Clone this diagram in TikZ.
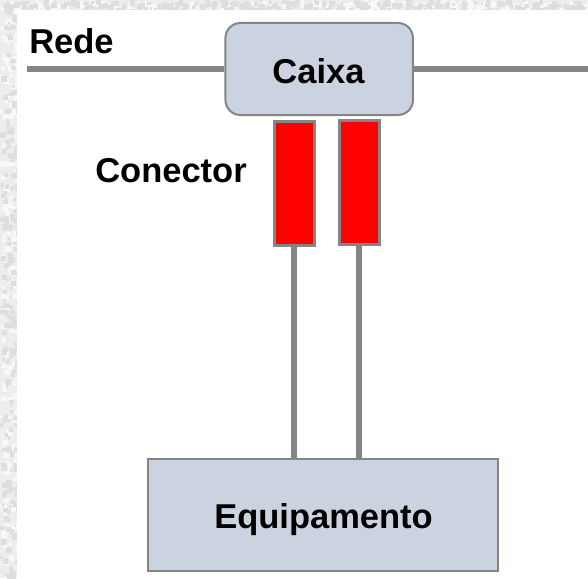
\documentclass[tikz,border=0pt]{standalone}
\usepackage{fontspec}
\setmainfont{Liberation Sans}
\definecolor{boxfill}{HTML}{CCD3E0}
\definecolor{edge}{HTML}{858585}
\definecolor{paper}{HTML}{EDEDED}
\definecolor{specklight}{HTML}{F8F8F8}
\definecolor{speckdark}{HTML}{DEDEDE}
\tikzset{
  lbl/.style={font=\fontsize{34.5}{40}\selectfont\bfseries,text=black,inner sep=0pt,anchor=base},
  boxbase/.style={draw=edge,line width=2pt,fill=boxfill,inner sep=0pt},
  conn/.style={draw=edge,line width=6pt},
  redbox/.style={draw=edge,line width=2.6pt,fill=red,minimum width=40pt,minimum height=124pt,inner sep=0pt,outer sep=0pt}
}
\begin{document}
\begin{tikzpicture}[x=1pt,y=-1pt]
\useasboundingbox (0,0) rectangle (588,578);
\fill[paper] (0,0) rectangle (588,578);
\pgfmathsetseed{7}
\foreach \i in {1,...,420}{
  \pgfmathsetmacro\xa{17*rnd}
  \pgfmathsetmacro\ya{578*rnd}
  \pgfmathsetmacro\sa{2+4*rnd}
  \ifnum\i<210 \fill[specklight] (\xa,\ya) rectangle ++(\sa,\sa);
  \else \fill[speckdark] (\xa,\ya) rectangle ++(\sa,\sa); \fi
}
\foreach \i in {1,...,700}{
  \pgfmathsetmacro\xa{588*rnd}
  \pgfmathsetmacro\ya{10*rnd}
  \pgfmathsetmacro\sa{2+4*rnd}
  \ifnum\i<350 \fill[specklight] (\xa,\ya) rectangle ++(\sa,\sa);
  \else \fill[speckdark] (\xa,\ya) rectangle ++(\sa,\sa); \fi
}
\fill[white] (17,10) rectangle (588,578);
\coordinate (netL) at (27,69);
\coordinate (netR) at (588,69);
\node[boxbase,rounded corners=15pt,minimum width=187.5pt,minimum height=92pt] (caixa) at (319.2,69) {};
\node[redbox] (c1) at (294.3,183.3) {};
\node[redbox] (c2) at (359.4,182.5) {};
\node[boxbase,minimum width=350pt,minimum height=112pt] (equip) at (323,515) {};
\draw[conn] (netL) -- (caixa.west |- netL);
\draw[conn] (caixa.east |- netR) -- (netR);
\draw[conn] (c1.south -| 294,0) -- (equip.north -| 294,0);
\draw[conn] (c2.south -| 359,0) -- (equip.north -| 359,0);
\node[lbl] (rede) at (71.5,53) {Rede};
\node[lbl] (cxt) at (318.5,83) {Caixa};
\node[lbl] (cont) at (171,182.5) {Conector};
\node[lbl] (eqt) at (323.5,528.5) {Equipamento};
\end{tikzpicture}
\end{document}
